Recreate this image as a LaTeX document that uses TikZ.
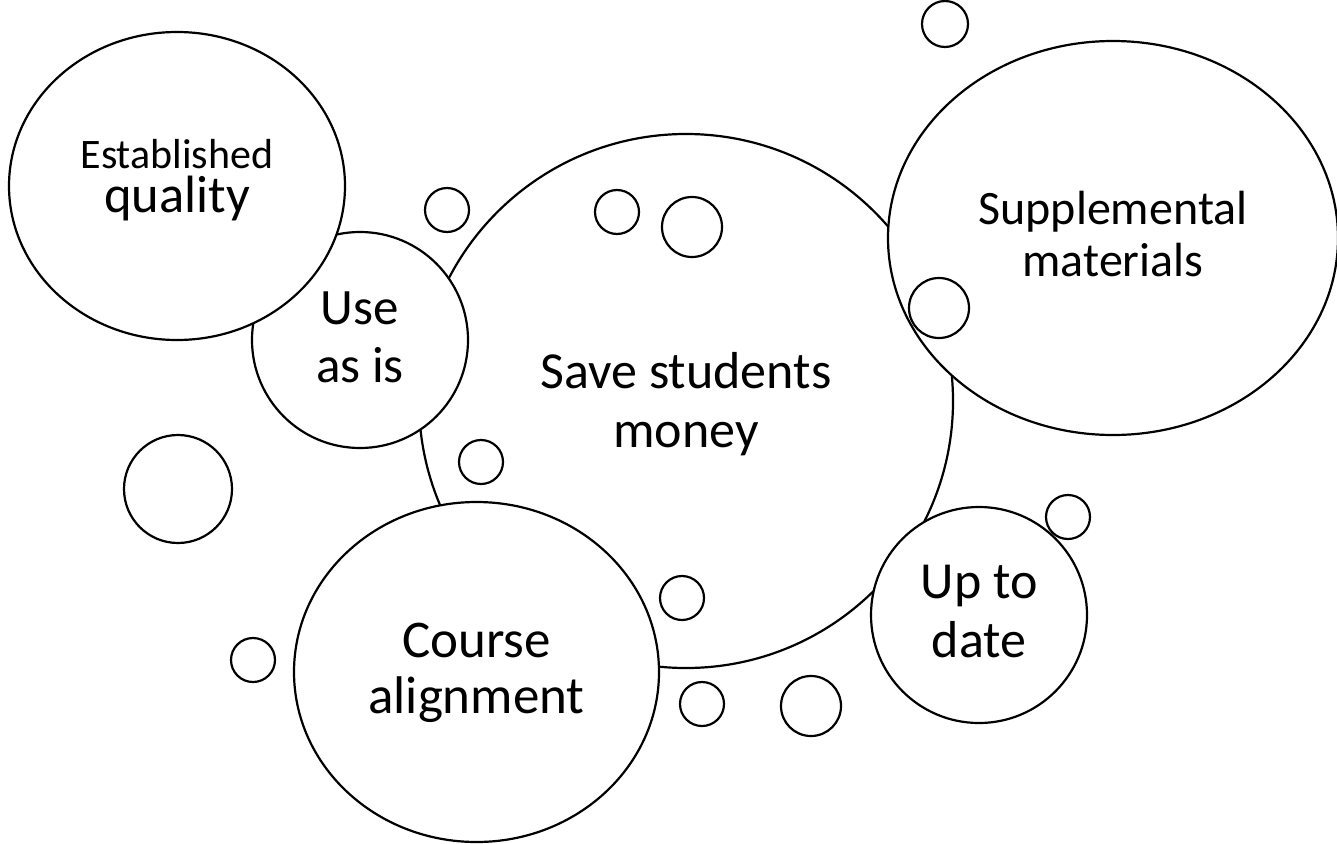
\documentclass[tikz,border=0pt]{standalone}
\usepackage{fontspec}
\setmainfont{Carlito}
\usetikzlibrary{shapes.geometric}
\tikzset{
  bubble/.style={ellipse, draw, line width=2.2pt, fill=white, inner sep=0pt},
  smallbubble/.style={circle, draw, line width=2.2pt, fill=white, inner sep=0pt, minimum size=#1},
  bubbletext/.style={inner sep=0pt, align=center}
}
\begin{document}
\begin{tikzpicture}[x=1pt,y=-1pt]
\useasboundingbox (0,0) rectangle (1337,843);
\clip (0,0) rectangle (1337,843);
% big central bubble (bottom layer)
\node[bubble, minimum width=534pt, minimum height=534pt] (save) at (686,401) {};
\node[bubbletext, font=\fontsize{52}{59}\selectfont] (savetext) at (686,404) {Save students\\money};
% bubbles on top of it
\node[bubble, minimum width=216pt, minimum height=216pt] (use) at (360,340) {};
\node[bubbletext, font=\fontsize{51}{58}\selectfont] (usetext) at (360,337.5) {Use\\as is};
\node[bubble, minimum width=336pt, minimum height=308pt] (est) at (177,186) {};
\node[bubbletext, font=\fontsize{52.5}{44}\selectfont] (esttext) at (177,180.5)
  {{\fontsize{42}{44}\selectfont Established}\\quality};
\node[bubble, minimum width=365pt, minimum height=340pt] (course) at (476.5,672) {};
\node[bubbletext, font=\fontsize{53}{56}\selectfont] (coursetext) at (476.5,673) {Course\\alignment};
\node[bubble, minimum width=216pt, minimum height=216pt] (uptodate) at (979,615) {};
\node[bubbletext, font=\fontsize{52}{59}\selectfont] (uptodatetext) at (979,611) {Up to\\date};
\node[bubble, minimum width=450pt, minimum height=394pt] (supp) at (1113,238) {};
\node[bubbletext, font=\fontsize{48}{52}\selectfont] (supptext) at (1113,234) {Supplemental\\materials};
% small bubbles
\node[smallbubble=46pt] (s1) at (945,24) {};
\node[smallbubble=44pt] (s2) at (447,210) {};
\node[smallbubble=44pt] (s3) at (617,212) {};
\node[smallbubble=60pt] (s4) at (692,227) {};
\node[smallbubble=60pt] (s5) at (939,308) {};
\node[smallbubble=108pt] (s6) at (178,489) {};
\node[smallbubble=44pt] (s7) at (481,462) {};
\node[smallbubble=44pt] (s8) at (253,660) {};
\node[smallbubble=44pt] (s9) at (682,598) {};
\node[smallbubble=44pt] (s10) at (702,704) {};
\node[smallbubble=60pt] (s11) at (811,706) {};
\node[smallbubble=44pt] (s12) at (1068,517) {};
\end{tikzpicture}
\end{document}
